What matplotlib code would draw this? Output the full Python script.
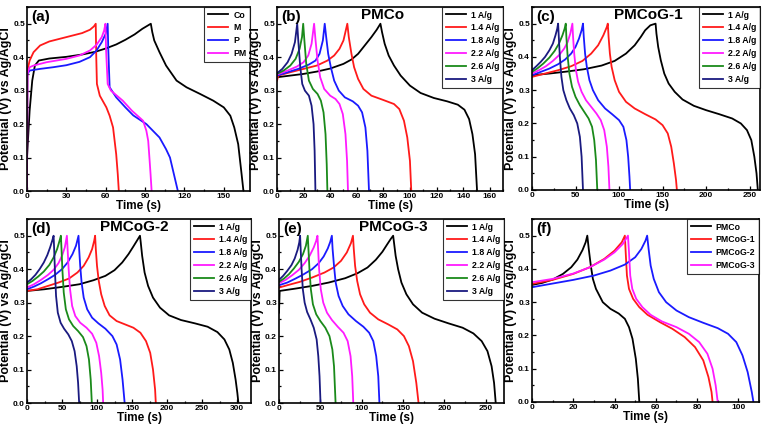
import matplotlib
matplotlib.use("Agg")
import matplotlib.pyplot as plt
from matplotlib.ticker import MultipleLocator

plt.rcParams['font.family'] = ['Liberation Sans', 'DejaVu Sans']
plt.rcParams['font.weight'] = 'bold'

# ---- data: (time s, potential V) ----
# (a) Co, M, P, PM
a_co = [(0, 0.1), (2, 0.24), (4, 0.33), (6, 0.375), (9, 0.39), (17, 0.396), (30, 0.401), (42, 0.408),
        (52, 0.416), (60, 0.426), (68, 0.438), (75, 0.452), (82, 0.468), (88, 0.485), (94.4, 0.5),
        (95.5, 0.475), (97, 0.45), (101, 0.415), (106, 0.375), (114, 0.33), (121.6, 0.31), (132, 0.29),
        (142, 0.27), (150, 0.25), (155, 0.225), (158, 0.19), (161, 0.14), (163.6, 0.05), (165, 0)]
a_m = [(0, 0), (0.3, 0.36), (2, 0.39), (5, 0.415), (10, 0.435), (17, 0.447), (25, 0.455), (35, 0.465),
       (42, 0.472), (48, 0.482), (51, 0.492), (52.4, 0.5), (52.8, 0.4), (53.3, 0.32), (55.5, 0.285),
       (60.5, 0.25), (63, 0.225), (65.6, 0.19), (68, 0.11), (69.2, 0.05), (70, 0)]
a_p = [(0, 0), (0.3, 0.35), (2, 0.36), (10, 0.365), (20, 0.37), (30, 0.376), (40, 0.386), (48, 0.4),
       (53, 0.42), (57, 0.445), (60, 0.47), (61.5, 0.5), (62, 0.42), (63, 0.31), (68, 0.28),
       (75, 0.25), (81, 0.226), (91, 0.2), (101, 0.16), (106, 0.125), (109, 0.1), (112, 0.05), (115, 0)]
a_pm = [(0, 0), (0.3, 0.35), (2, 0.37), (5, 0.375), (15, 0.385), (30, 0.395), (40, 0.405), (48, 0.42),
        (53, 0.437), (57, 0.46), (58.8, 0.48), (59.8, 0.5), (60.3, 0.42), (61.5, 0.32), (64, 0.3),
        (73, 0.27), (80, 0.24), (88.5, 0.21), (91, 0.18), (92.4, 0.15), (93.5, 0.09), (94.2, 0.05), (95, 0)]

# (b) PMCo
b_1 = [(0, 0.34), (10, 0.345), (20, 0.35), (30, 0.357), (40, 0.366), (50, 0.38), (56, 0.393), (61, 0.41),
       (66, 0.435), (71, 0.46), (75, 0.482), (77.8, 0.5), (79, 0.475), (81, 0.44), (84, 0.405), (88, 0.375),
       (93, 0.345), (100, 0.315), (108, 0.293), (118, 0.278), (128, 0.268), (136, 0.258), (141, 0.243),
       (144.5, 0.215), (147, 0.17), (149, 0.11), (150.5, 0)]
b_14 = [(0, 0.33), (1, 0.345), (10, 0.355), (20, 0.365), (30, 0.375), (38, 0.39), (43, 0.405), (47, 0.425),
        (50, 0.45), (52.9, 0.5), (54, 0.46), (56, 0.41), (58, 0.37), (61, 0.335), (65, 0.305), (71, 0.285),
        (80, 0.272), (88, 0.26), (92, 0.245), (95.5, 0.21), (98, 0.16), (100, 0.09), (101, 0)]
b_18 = [(0, 0.345), (8, 0.355), (16, 0.365), (24, 0.378), (29, 0.39), (32, 0.41), (34.5, 0.45), (35.9, 0.5),
        (37, 0.46), (38.5, 0.41), (40.5, 0.37), (43, 0.33), (46.5, 0.3), (51, 0.28), (57, 0.268),
        (61, 0.255), (64, 0.235), (66.5, 0.19), (68, 0.12), (69.2, 0)]
b_22 = [(0, 0.348), (8, 0.36), (15, 0.372), (20, 0.385), (23.5, 0.405), (26, 0.44), (27.9, 0.5), (29, 0.45),
        (30.5, 0.39), (32.5, 0.34), (35.5, 0.305), (40, 0.285), (44, 0.275), (47, 0.26), (49.5, 0.23),
        (51.5, 0.17), (52.7, 0.09), (53.4, 0)]
b_26 = [(0, 0.35), (5, 0.36), (10, 0.375), (14, 0.395), (17, 0.425), (18.8, 0.46), (19.7, 0.5), (20.6, 0.45),
        (22, 0.38), (24, 0.33), (27, 0.305), (30.5, 0.29), (33, 0.27), (35, 0.235), (36.5, 0.17),
        (37.4, 0.08), (37.9, 0)]
b_3 = [(0, 0.352), (4, 0.365), (8, 0.385), (11, 0.41), (13.5, 0.445), (15.2, 0.5), (16, 0.45), (17.5, 0.37),
       (19, 0.32), (21, 0.3), (24, 0.285), (26, 0.255), (27.5, 0.2), (28.3, 0.12), (28.9, 0)]

# (c) PMCoG-1
c_1 = [(0, 0.345), (20, 0.35), (40, 0.356), (60, 0.363), (80, 0.374), (95, 0.388), (108, 0.41), (118, 0.435),
       (125, 0.46), (130, 0.48), (136, 0.495), (142, 0.5), (143, 0.47), (145, 0.43), (148, 0.39),
       (152, 0.35), (157, 0.32), (164, 0.295), (173, 0.272), (186, 0.253), (200, 0.24), (215, 0.228),
       (230, 0.215), (240, 0.2), (247, 0.18), (252, 0.15), (255.5, 0.1), (258, 0.05), (259.5, 0)]
c_14 = [(0, 0.34), (15, 0.35), (30, 0.36), (45, 0.372), (58, 0.388), (68, 0.41), (76, 0.435), (82, 0.465),
        (86, 0.49), (87.1, 0.5), (88, 0.46), (89.5, 0.41), (91.5, 0.37), (95, 0.33), (100, 0.295),
        (108, 0.265), (118, 0.245), (130, 0.228), (142, 0.212), (150, 0.195), (156, 0.17), (160, 0.13),
        (163, 0.08), (165.5, 0.03), (166.5, 0)]
c_18 = [(0, 0.345), (10, 0.355), (20, 0.365), (30, 0.378), (38, 0.392), (45, 0.41), (50, 0.43), (54, 0.455),
        (57, 0.48), (58.6, 0.5), (59.5, 0.46), (61, 0.41), (63, 0.37), (66, 0.33), (70, 0.3), (76, 0.27),
        (84, 0.245), (92, 0.228), (100, 0.21), (105, 0.19), (108.5, 0.15), (110.5, 0.1), (112, 0.04),
        (112.8, 0)]
c_22 = [(0, 0.35), (8, 0.36), (16, 0.372), (24, 0.388), (31, 0.405), (37, 0.425), (41, 0.445), (44, 0.47),
        (46.4, 0.5), (47.2, 0.46), (48.5, 0.41), (50.5, 0.36), (53, 0.325), (57, 0.295), (62, 0.27),
        (68, 0.25), (74, 0.23), (79, 0.21), (83, 0.18), (86, 0.13), (87.8, 0.07), (89, 0)]
c_26 = [(0, 0.355), (6, 0.365), (13, 0.38), (20, 0.398), (26, 0.418), (31, 0.44), (35, 0.465), (37.5, 0.485),
        (38.8, 0.5), (39.5, 0.46), (41, 0.4), (43, 0.35), (46, 0.31), (50, 0.28), (55, 0.255), (60, 0.235),
        (65, 0.215), (69, 0.19), (71.5, 0.15), (73.5, 0.09), (75, 0)]
c_3 = [(0, 0.36), (5, 0.372), (10, 0.385), (15, 0.4), (20, 0.42), (24, 0.44), (27, 0.465), (29, 0.485),
       (30, 0.5), (30.8, 0.46), (32, 0.4), (33.8, 0.34), (36, 0.3), (39.5, 0.27), (43.5, 0.245),
       (48, 0.225), (52, 0.2), (55, 0.16), (57, 0.1), (58.6, 0)]

# (d) PMCoG-2
d_1 = [(0, 0.335), (25, 0.34), (50, 0.347), (75, 0.355), (95, 0.367), (112, 0.38), (125, 0.397), (136, 0.42),
       (145, 0.445), (152, 0.468), (157, 0.485), (161.4, 0.5), (162.5, 0.48), (164.5, 0.44), (168, 0.39),
       (173, 0.35), (180, 0.315), (190, 0.285), (203, 0.262), (220, 0.248), (240, 0.238), (258, 0.228),
       (272, 0.212), (282, 0.19), (289, 0.16), (294, 0.12), (298, 0.07), (300.5, 0.03), (302, 0)]
d_14 = [(0, 0.335), (15, 0.34), (30, 0.35), (45, 0.36), (60, 0.372), (72, 0.39), (81, 0.41), (88, 0.435),
        (93, 0.46), (96, 0.485), (97.3, 0.5), (98.3, 0.46), (100, 0.41), (102.5, 0.365), (106, 0.325),
        (111, 0.29), (118, 0.262), (128, 0.245), (140, 0.235), (152, 0.225), (162, 0.21), (170, 0.185),
        (176, 0.15), (180, 0.1), (183, 0.04), (184, 0)]
d_18 = [(0, 0.34), (10, 0.348), (20, 0.358), (30, 0.37), (40, 0.383), (50, 0.4), (58, 0.42), (65, 0.445),
        (70, 0.47), (73.6, 0.5), (74.5, 0.46), (76, 0.41), (78, 0.36), (81, 0.315), (86, 0.28), (93, 0.255),
        (102, 0.238), (112, 0.222), (122, 0.2), (128, 0.175), (133, 0.13), (136.5, 0.07), (139.5, 0)]
d_22 = [(0, 0.345), (10, 0.355), (20, 0.368), (30, 0.383), (38, 0.398), (45, 0.418), (50, 0.44), (54, 0.465),
        (57, 0.5), (58, 0.46), (59.5, 0.4), (61.5, 0.34), (64.5, 0.29), (69, 0.26), (76, 0.24), (85, 0.225),
        (93, 0.207), (99, 0.18), (103, 0.14), (106, 0.09), (108, 0.04), (108.8, 0)]
d_26 = [(0, 0.355), (8, 0.365), (16, 0.378), (24, 0.393), (32, 0.413), (38, 0.435), (43, 0.46), (46.5, 0.485),
        (48.4, 0.5), (49.3, 0.46), (50.5, 0.4), (52.5, 0.33), (55.5, 0.28), (60, 0.25), (66, 0.23),
        (73, 0.215), (80, 0.197), (85, 0.17), (88.5, 0.13), (91, 0.07), (92.6, 0)]
d_3 = [(0, 0.36), (6, 0.37), (12, 0.383), (18, 0.4), (24, 0.42), (29, 0.442), (33, 0.465), (36, 0.485),
       (38, 0.5), (38.8, 0.46), (40, 0.39), (41.5, 0.32), (44, 0.27), (48, 0.24), (53, 0.222), (59, 0.205),
       (64, 0.185), (68, 0.155), (71, 0.11), (73, 0.06), (74.5, 0)]

# (e) PMCoG-3
e_1 = [(0, 0.27), (0.8, 0.335), (20, 0.342), (40, 0.35), (60, 0.36), (80, 0.373), (95, 0.388), (107, 0.405),
       (117, 0.428), (125, 0.452), (131, 0.475), (135, 0.49), (138, 0.5), (139, 0.48), (141, 0.44),
       (144, 0.4), (148, 0.36), (154, 0.325), (162, 0.295), (173, 0.27), (188, 0.252), (205, 0.238),
       (222, 0.225), (235, 0.208), (245, 0.185), (252, 0.155), (257, 0.11), (260, 0.06), (262, 0)]
e_14 = [(0, 0.345), (10, 0.352), (25, 0.362), (40, 0.375), (55, 0.39), (66, 0.405), (75, 0.425), (82, 0.45),
        (87, 0.478), (89.4, 0.5), (90.4, 0.46), (92, 0.41), (94.5, 0.365), (98, 0.325), (103, 0.295),
        (110, 0.27), (120, 0.25), (132, 0.235), (143, 0.22), (151, 0.2), (157, 0.17), (162, 0.125),
        (166, 0.06), (168.7, 0)]
e_18 = [(0, 0.352), (10, 0.36), (20, 0.372), (30, 0.385), (40, 0.4), (48, 0.418), (54, 0.438), (59, 0.462),
        (62, 0.482), (63.9, 0.5), (64.8, 0.46), (66.5, 0.41), (68.5, 0.36), (72, 0.32), (77, 0.29),
        (84, 0.265), (93, 0.245), (102, 0.228), (109, 0.21), (114, 0.185), (117.5, 0.14), (120, 0.08),
        (121.4, 0)]
e_22 = [(0, 0.358), (8, 0.368), (16, 0.382), (24, 0.398), (31, 0.418), (37, 0.44), (42, 0.465), (45, 0.485),
        (46.5, 0.5), (47.3, 0.46), (48.5, 0.4), (50.5, 0.34), (53.5, 0.3), (58, 0.27), (64, 0.248),
        (71, 0.228), (78, 0.21), (83, 0.185), (86.5, 0.14), (88.5, 0.08), (89.8, 0)]
e_26 = [(0, 0.362), (6, 0.372), (12, 0.385), (18, 0.402), (24, 0.422), (29, 0.445), (32.5, 0.47),
        (34.8, 0.5), (35.6, 0.46), (36.8, 0.4), (38.5, 0.34), (41, 0.295), (45, 0.265), (50, 0.245),
        (56, 0.225), (61, 0.2), (64.5, 0.16), (66.5, 0.11), (68.4, 0)]
e_3 = [(0, 0.368), (5, 0.38), (10, 0.395), (15, 0.412), (19, 0.432), (22.5, 0.458), (24.5, 0.48),
       (25.5, 0.5), (26.2, 0.46), (27.3, 0.4), (28.8, 0.34), (31, 0.3), (34, 0.272), (38, 0.25),
       (42, 0.225), (45.5, 0.19), (47.5, 0.14), (49, 0.08), (50.2, 0)]

# (f) comparison at same current
f_pmco = [(0, 0.352), (5, 0.358), (10, 0.368), (15, 0.385), (19, 0.405), (22, 0.428), (24.5, 0.457),
          (26, 0.48), (26.8, 0.5), (27.5, 0.46), (28.5, 0.41), (29.5, 0.37), (31, 0.34), (34.3, 0.3),
          (38, 0.28), (42, 0.266), (45, 0.25), (47, 0.225), (48.7, 0.19), (50.3, 0.13), (51.3, 0.07),
          (52, 0)]
f_g1 = [(0, 0.355), (10, 0.367), (20, 0.385), (28, 0.405), (35, 0.43), (40, 0.455), (43.5, 0.48), (45, 0.5),
        (45.4, 0.45), (46, 0.38), (47, 0.34), (49, 0.31), (52, 0.285), (56, 0.262), (62, 0.24), (68, 0.22),
        (74, 0.195), (79, 0.165), (83, 0.125), (85.5, 0.075), (87, 0.03), (87.5, 0)]
f_g2 = [(0, 0.345), (10, 0.356), (20, 0.367), (30, 0.38), (38, 0.395), (45, 0.413), (50, 0.435), (53, 0.46),
        (55, 0.485), (55.8, 0.5), (56.5, 0.46), (57.5, 0.41), (59, 0.37), (61.5, 0.33), (65, 0.3),
        (70, 0.275), (76, 0.255), (83, 0.238), (90, 0.222), (95, 0.205), (99, 0.18), (102, 0.14),
        (104.5, 0.09), (106.5, 0.03), (107.3, 0)]
f_g3 = [(0, 0.36), (10, 0.37), (20, 0.386), (28, 0.405), (35, 0.428), (40, 0.45), (44, 0.475), (46.5, 0.5),
        (47, 0.45), (47.6, 0.38), (48.6, 0.34), (50.5, 0.31), (53.5, 0.285), (57.5, 0.262), (63, 0.242),
        (70, 0.225), (76, 0.205), (81, 0.18), (85, 0.145), (87.5, 0.1), (89, 0.05), (90, 0)]

rate_labels = ['1 A/g', '1.4 A/g', '1.8 A/g', '2.2 A/g', '2.6 A/g', '3 A/g']
rate_colors = ['black', '#ff1a1a', '#1a1aff', '#ff1aff', '#1a8a1a', '#1a1a80']

panels = [
    # letter, title, curves, labels, colors, xmax, major step
    ('(a)', '', [a_co, a_m, a_p, a_pm], ['Co', 'M', 'P', 'PM'],
     ['black', '#ff1a1a', '#1a1aff', '#ff1aff'], 170, 30),
    ('(b)', 'PMCo', [b_1, b_14, b_18, b_22, b_26, b_3], rate_labels, rate_colors, 170, 20),
    ('(c)', 'PMCoG-1', [c_1, c_14, c_18, c_22, c_26, c_3], rate_labels, rate_colors, 262, 50),
    ('(d)', 'PMCoG-2', [d_1, d_14, d_18, d_22, d_26, d_3], rate_labels, rate_colors, 320, 50),
    ('(e)', 'PMCoG-3', [e_1, e_14, e_18, e_22, e_26, e_3], rate_labels, rate_colors, 272, 50),
    ('(f)', '', [f_pmco, f_g1, f_g2, f_g3], ['PMCo', 'PMCoG-1', 'PMCoG-2', 'PMCoG-3'],
     ['black', '#ff1a1a', '#1a1aff', '#ff1aff'], 110, 20),
]

W, H = 766, 428
# axes boxes in pixels: left, top, right, bottom
boxes = [(27, 7, 250, 191), (277, 7, 503, 191), (532, 7, 760, 190),
         (27, 219, 251, 403), (279, 219, 504, 403), (532, 219, 759, 402)]
title_x = [0.5, 0.465, 0.51, 0.48, 0.51, 0.5]

fig = plt.figure(figsize=(W / 100, H / 100), dpi=100)

for i, (letter, title, curves, labels, colors, xmax, step) in enumerate(panels):
    l, t, r, b = boxes[i]
    ax = fig.add_axes([l / W, 1 - b / H, (r - l) / W, (b - t) / H])
    for pts, lab, col in zip(curves, labels, colors):
        ax.plot([p[0] for p in pts], [p[1] for p in pts], color=col, lw=1.3, label=lab)
    ax.set_xlim(0, xmax)
    ax.set_ylim(0, 0.55)
    ax.xaxis.set_major_locator(MultipleLocator(step))
    ax.xaxis.set_minor_locator(MultipleLocator(step / 2))
    ax.yaxis.set_major_locator(MultipleLocator(0.1))
    ax.yaxis.set_minor_locator(MultipleLocator(0.05))
    ax.yaxis.set_major_formatter(plt.FormatStrFormatter('%.1f'))
    ax.tick_params(which='both', direction='in', labelsize=6, width=0.9, pad=1.5)
    ax.tick_params(which='major', length=3)
    ax.tick_params(which='minor', length=1.6)
    for s in ax.spines.values():
        s.set_linewidth(1.2)
    ax.set_xlabel('Time (s)', fontsize=8.5, fontweight='bold', labelpad=0)
    ax.set_ylabel('Potential (V) vs Ag/AgCl', fontsize=9, fontweight='bold', labelpad=1)
    ax.text(0.02, 0.985, letter, transform=ax.transAxes, fontsize=11, fontweight='bold',
            va='top', ha='left')
    if title:
        ax.text(title_x[i], 0.995, title, transform=ax.transAxes, fontsize=11, fontweight='bold',
                va='top', ha='center')
    leg = ax.legend(loc='upper right', bbox_to_anchor=(1, 1), borderaxespad=0,
                    prop={'weight': 'bold', 'size': 6.3}, frameon=True, fancybox=False,
                    handlelength=2.3, handletextpad=0.6, labelspacing=0.45, borderpad=0.4)
    leg.get_frame().set_edgecolor('black')
    leg.get_frame().set_linewidth(0.8)

fig.savefig('out.png', dpi=100)
